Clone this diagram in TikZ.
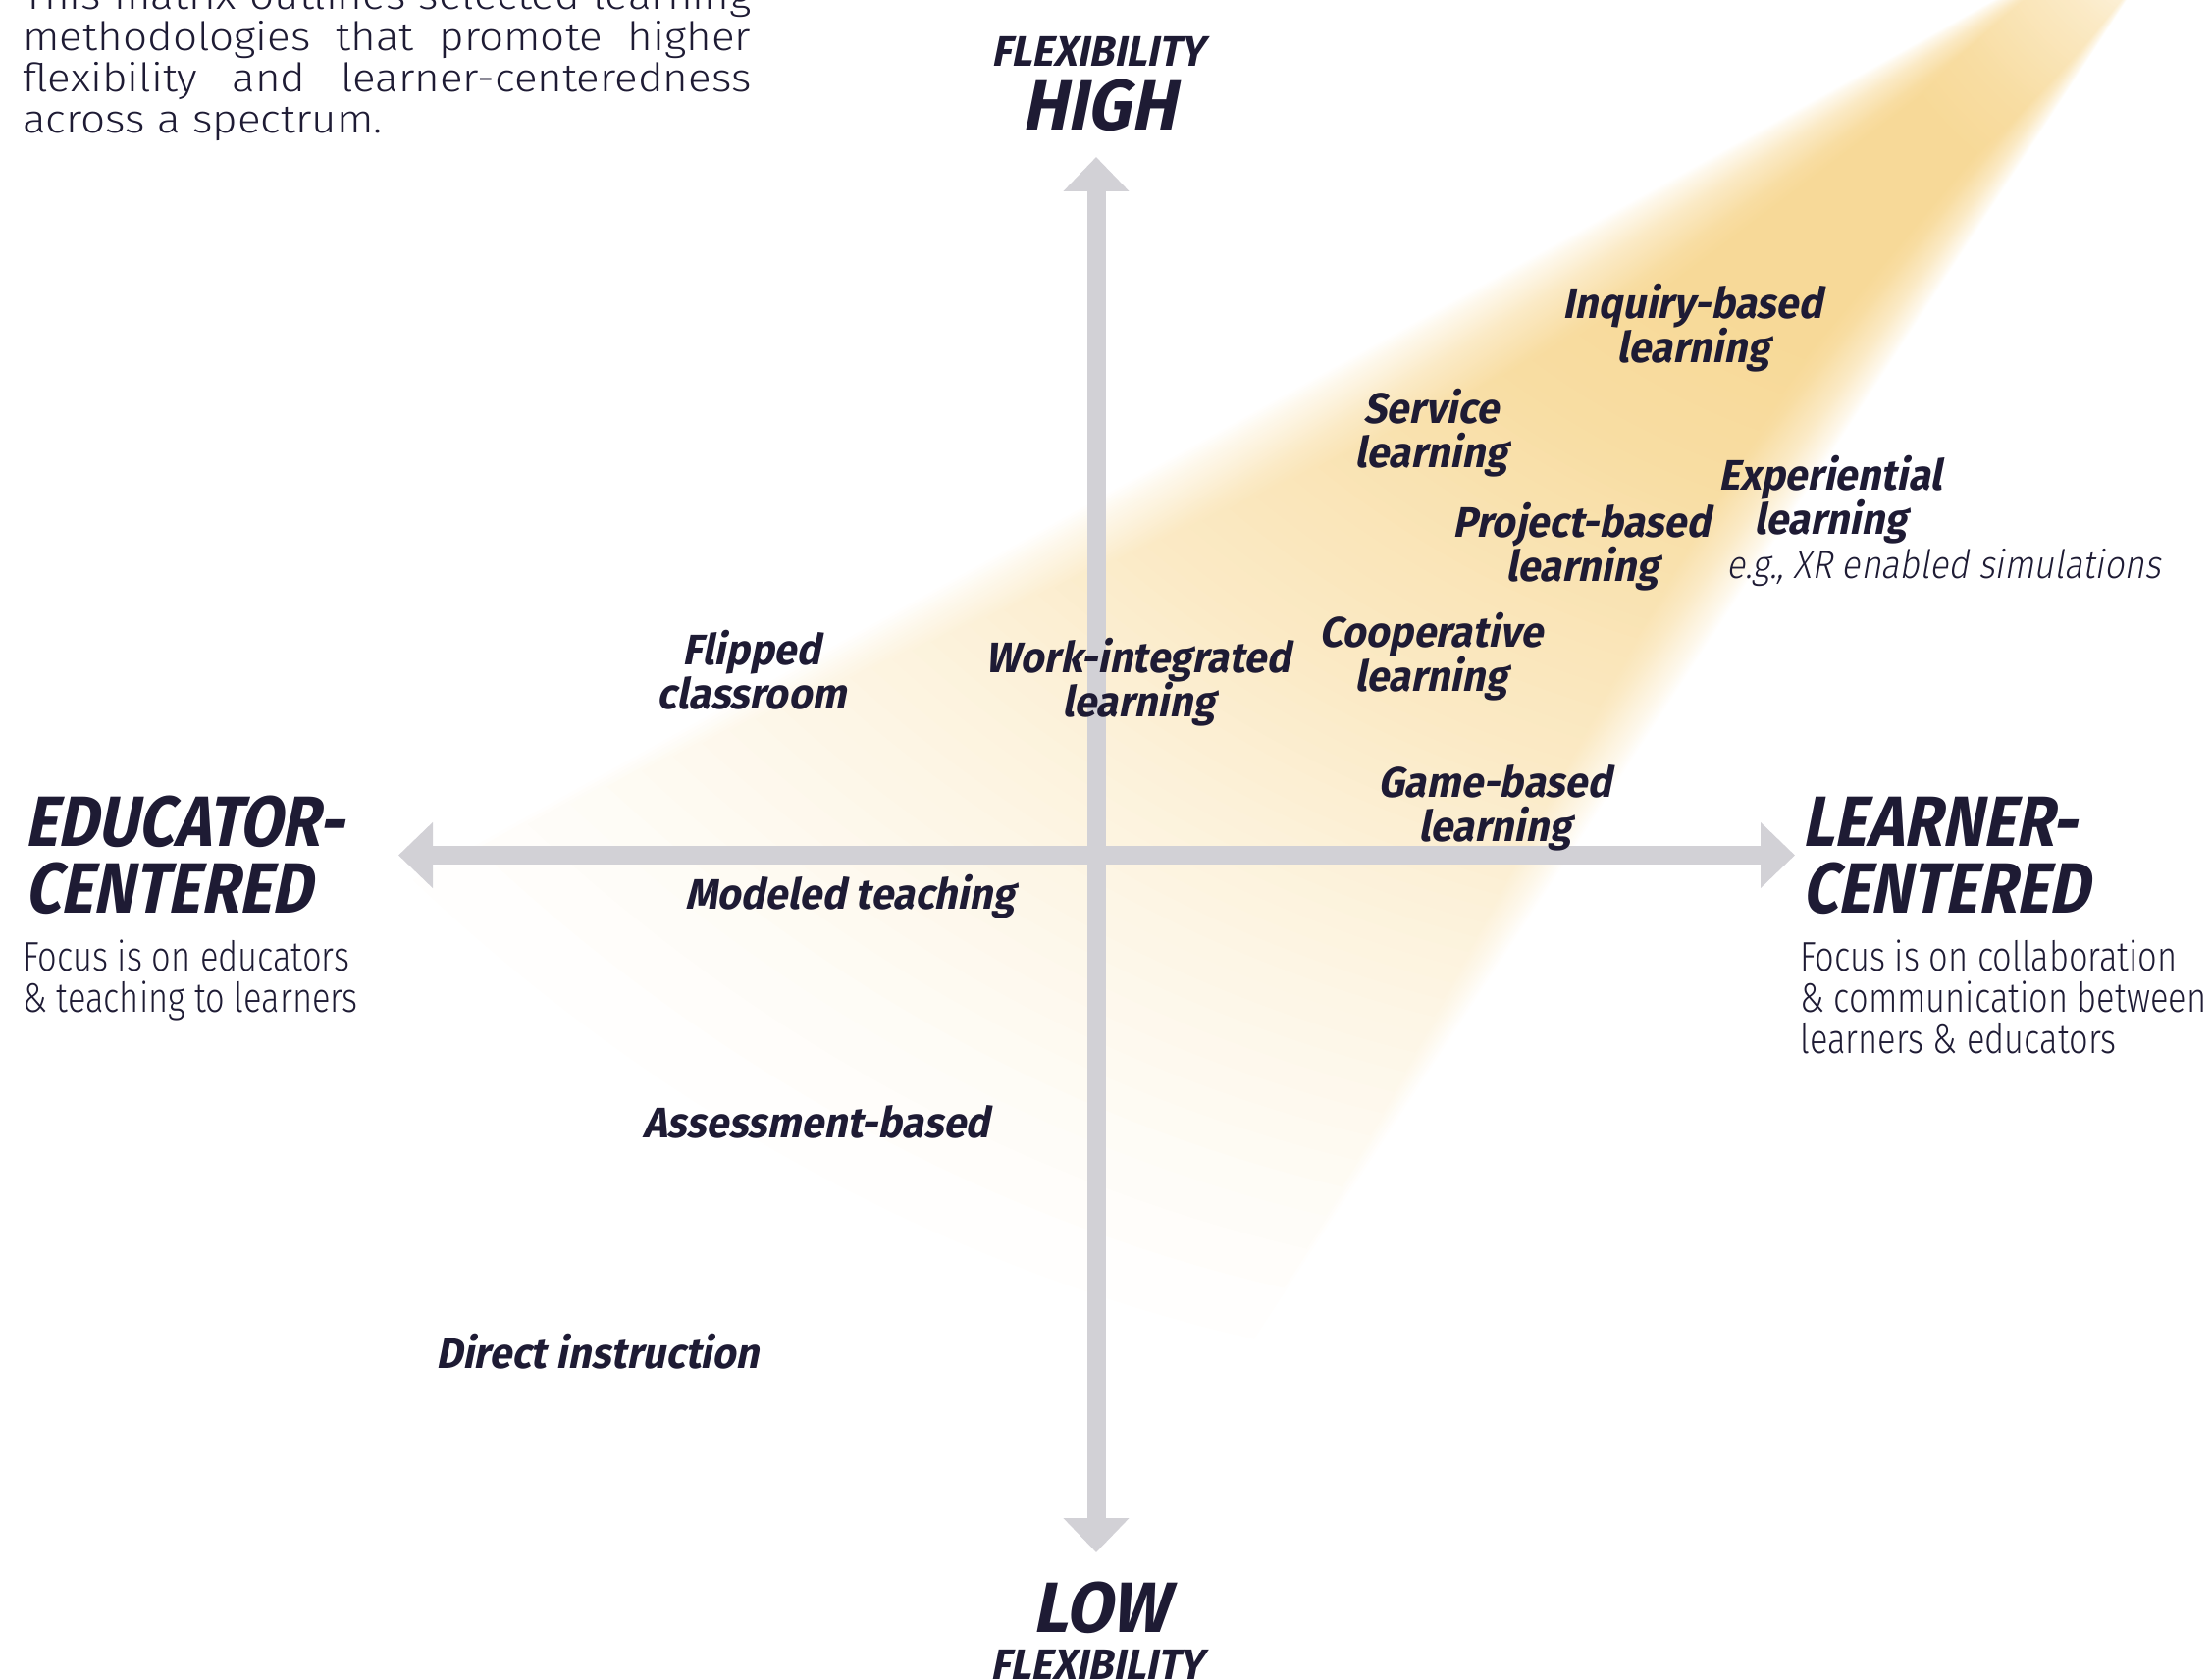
\documentclass[tikz,border=0pt]{standalone}
\usepackage{fontspec}
\setmainfont{Fira Sans}
\usetikzlibrary{arrows.meta}
\definecolor{ink}{HTML}{1E1B34}
\definecolor{axisgray}{HTML}{D2D1D6}
\definecolor{glow}{HTML}{F4C96C}
\newfontfamily\fBO{Fira Sans}[FakeSlant=0.2,FakeStretch=0.95]
\newfontfamily\fBB{Fira Sans}[FakeSlant=0.2,FakeStretch=0.87]
\IfFontExistsTF{Fira Sans Light}{%
  \newfontfamily\fLight{Fira Sans Light}[FakeStretch=1.1]%
  \newfontfamily\fLightC{Fira Sans Light}[FakeStretch=0.82]%
  \newfontfamily\fLightCI{Fira Sans Light}[FakeStretch=0.89,FakeSlant=0.18]%
}{%
  \newfontfamily\fLight{Fira Sans}[FakeStretch=1.1]%
  \newfontfamily\fLightC{Fira Sans}[FakeStretch=0.82]%
  \newfontfamily\fLightCI{Fira Sans}[FakeStretch=0.89,FakeSlant=0.18]%
}
\newcommand\twolc[2]{\vtop{\halign{\hfil##\hfil\cr#1\cr#2\cr}}}
\newcommand\linesl[1]{\vtop{\halign{##\hfil\cr#1}}}
\begin{document}
\begin{tikzpicture}[x=0.5pt,y=-0.5pt,
  lab/.style={font={\fBO\bfseries\fontsize{21.75pt}{22.5pt}\selectfont}, text=ink, anchor=base, inner sep=0pt},
  hilo/.style={font={\fBO\bfseries\fontsize{36.3pt}{34pt}\selectfont}, text=ink, anchor=base, inner sep=0pt},
  biglab/.style={font={\fBB\bfseries\fontsize{36.3pt}{34pt}\selectfont}, text=ink, anchor=base west, inner sep=0pt},
  desc/.style={font={\fLightC\fontsize{21pt}{21pt}\selectfont}, text=ink, anchor=base west, inner sep=0pt},
  note/.style={font={\fLightCI\fontsize{20pt}{20pt}\selectfont}, text=ink, anchor=base west, inner sep=0pt},
  intro/.style={font={\fLight\fontsize{20pt}{20.85pt}\selectfont}, text=ink, anchor=base west, inner sep=0pt},
  axisline/.style={draw=axisgray, line width=9.5pt,
    arrows={Triangle[width=32.5pt,length=17.5pt]-Triangle[width=32.5pt,length=17.5pt]}}
]
\useasboundingbox (0,0) rectangle (2254,1711);
% glow
\begin{scope}
\clip (0,0) rectangle (2254,1711);
\foreach \k in {1,...,80}{
  \pgfmathsetmacro\tt{\k/80}
  \pgfmathsetmacro\pL{151-8*\tt}
  \pgfmathsetmacro\pR{123+7*\tt}
  \pgfmathsetmacro\ri{60+300*\tt}
  \pgfmathsetmacro\ro{700+1550*(1-sqrt(\tt))}
  \fill[glow, fill opacity=0.015]
    plot[domain=\pR:\pL, samples=30] ({2244+\ro*(1-0.0055*(150-\x))*cos(\x)},{-118+\ro*(1-0.0055*(150-\x))*sin(\x)})
    -- plot[domain=\pL:\pR, samples=8] ({2244+\ri*cos(\x)},{-118+\ri*sin(\x)}) -- cycle;
}
\end{scope}
% axes
\coordinate (O) at (1117,871.5);
\coordinate (T) at (1117,160);
\coordinate (B) at (1117,1582);
\coordinate (L) at (406,871.5);
\coordinate (R) at (1829,871.5);
\draw[axisline] (B) -- (T);
\draw[axisline] (L) -- (R);
% intro
\node[intro] (intro) at (23,10) {\linesl{%
\makebox[371pt][s]{This matrix outlines selected learning}\cr
\makebox[371pt][s]{methodologies that promote higher}\cr
\makebox[371pt][s]{flexibility and learner-centeredness}\cr
across a spectrum.\cr}};
% axis labels
\node[lab] (flexT) at (1119,68) {FLEXIBILITY};
\node[hilo] (high) at (1120,133) {HIGH};
\node[hilo] (low) at (1122,1663) {LOW};
\node[lab] (flexB) at (1118,1711) {FLEXIBILITY};
\node[biglab] (edu) at (25,862) {\linesl{EDUCATOR-\cr CENTERED\cr}};
\node[biglab] (lrn) at (1836,862) {\linesl{LEARNER-\cr CENTERED\cr}};
\node[desc] (eduD) at (23,989) {\linesl{Focus is on educators\cr \& teaching to learners\cr}};
\node[desc] (lrnD) at (1834,989) {\linesl{Focus is on collaboration\cr \& communication between\cr learners \& educators\cr}};
% methodologies
\node[lab] (inq) at (1725,325) {\twolc{Inquiry-based}{learning}};
\node[lab] (serv) at (1458,432) {\twolc{Service}{learning}};
\node[lab] (exp) at (1865,500) {\twolc{Experiential}{learning}};
\node[note] (eg) at (1759,590) {e.g., XR enabled simulations};
\node[lab] (proj) at (1612,548) {\twolc{Project-based}{learning}};
\node[lab] (coop) at (1458,660) {\twolc{Cooperative}{learning}};
\node[lab] (work) at (1160,685) {\twolc{Work-integrated}{learning}};
\node[lab] (flip) at (766,677) {\twolc{Flipped}{classroom}};
\node[lab] (game) at (1523,812) {\twolc{Game-based}{learning}};
\node[lab] (model) at (866,926) {Modeled teaching};
\node[lab] (assess) at (832,1159) {Assessment-based};
\node[lab] (direct) at (609,1394) {Direct instruction};
\end{tikzpicture}
\end{document}
